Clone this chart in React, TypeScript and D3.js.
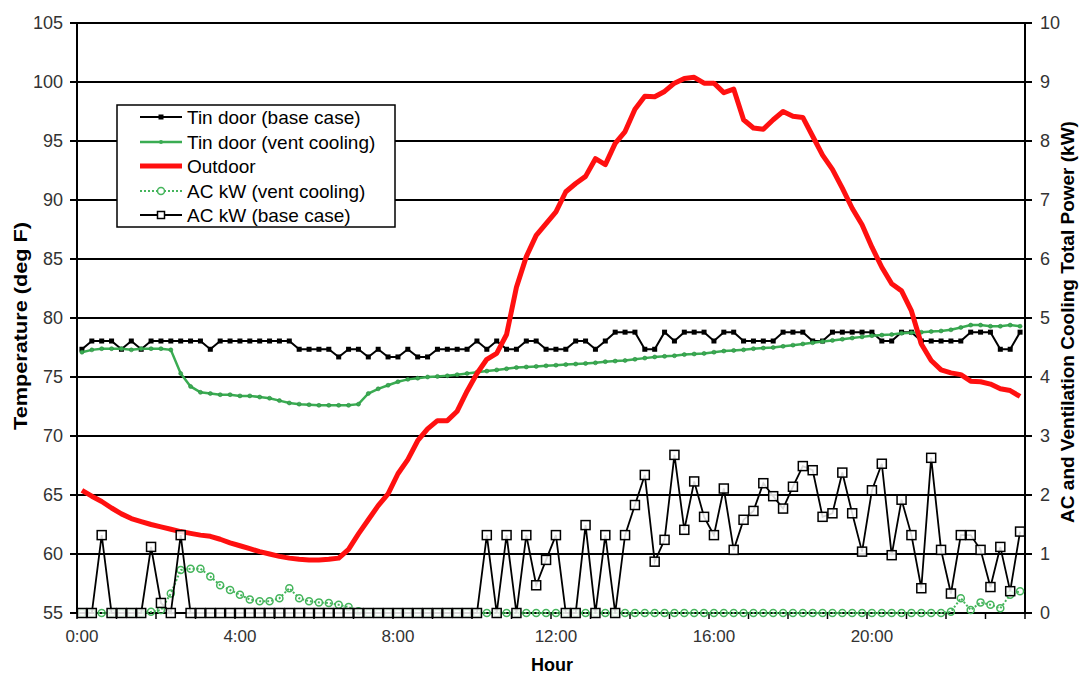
import React from 'react';
import * as d3 from 'd3';

const hourLabels = ['0:00', '4:00', '8:00', '12:00', '16:00', '20:00'];
const tempTicks = [55, 60, 65, 70, 75, 80, 85, 90, 95, 100, 105];
const kwTicks = [0, 1, 2, 3, 4, 5, 6, 7, 8, 9, 10];

const L1 = 76.7, L2 = 77.35, L3 = 78.05, L4 = 78.8;
const tindoorBase = [
  L2, L3, L3, L3, L2, L3, L2, L3, L3, L3, L3, L3, L3, L2, L3, L3,
  L3, L3, L3, L3, L3, L3, L2, L2, L2, L2, L1, L2, L2, L1, L2, L1,
  L1, L2, L1, L1, L2, L2, L2, L2, L3, L2, L3, L2, L2, L3, L3, L2,
  L2, L2, L3, L3, L2, L3, L4, L4, L4, L2, L2, L4, L3, L4, L4, L4,
  L3, L4, L4, L3, L3, L3, L3, L4, L4, L4, L3, L3, L4, L4, L4, L4,
  L4, L3, L3, L4, L4, L3, L3, L3, L3, L3, L4, L4, L4, L2, L2, L4,
];

const tindoorVent = [
  77.1, 77.3, 77.4, 77.4, 77.4, 77.3, 77.4, 77.4, 77.4, 77.3, 75.3, 74.2, 73.7, 73.6, 73.5, 73.5,
  73.4, 73.4, 73.3, 73.2, 73.0, 72.8, 72.7, 72.65, 72.6, 72.6, 72.6, 72.6, 72.7, 73.6, 74.0, 74.3,
  74.6, 74.8, 74.9, 75.0, 75.05, 75.1, 75.2, 75.3, 75.4, 75.5, 75.6, 75.7, 75.8, 75.85, 75.9, 75.95,
  76.0, 76.05, 76.1, 76.15, 76.2, 76.3, 76.35, 76.4, 76.5, 76.6, 76.7, 76.75, 76.8, 76.9, 76.95, 77.0,
  77.1, 77.2, 77.25, 77.3, 77.4, 77.45, 77.5, 77.6, 77.7, 77.8, 77.9, 78.0, 78.1, 78.2, 78.3, 78.4,
  78.5, 78.55, 78.6, 78.7, 78.75, 78.8, 78.85, 78.9, 79.0, 79.2, 79.4, 79.4, 79.3, 79.3, 79.4, 79.3,
];

const outdoor = [
  65.4, 64.9, 64.45, 63.9, 63.4, 63.0, 62.75, 62.5, 62.3, 62.1, 61.9, 61.75, 61.6, 61.5, 61.25, 60.95,
  60.7, 60.45, 60.2, 60.0, 59.8, 59.65, 59.55, 59.5, 59.5, 59.55, 59.65, 60.4, 61.7, 62.9, 64.1, 65.1,
  66.8, 68.0, 69.6, 70.6, 71.3, 71.3, 72.1, 73.8, 75.3, 76.5, 77.0, 78.6, 82.6, 85.2, 87.0, 88.0,
  89.0, 90.7, 91.4, 92.0, 93.5, 93.0, 94.8, 95.8, 97.7, 98.8, 98.75, 99.2, 99.9, 100.3, 100.4, 99.9,
  99.9, 99.1, 99.4, 96.8, 96.1, 96.0, 96.8, 97.5, 97.1, 97.0, 95.4, 93.8, 92.6, 91.0, 89.3, 87.9,
  86.0, 84.3, 82.9, 82.3, 80.6, 77.8, 76.4, 75.6, 75.35, 75.2, 74.65, 74.6, 74.4, 74.0, 73.85, 73.35,
];

const acVent = [
  0, 0, 0, 0, 0, 0, 0, 0.02, 0.05, 0.33, 0.73, 0.75, 0.75, 0.62, 0.47, 0.39,
  0.31, 0.23, 0.2, 0.2, 0.25, 0.42, 0.25, 0.2, 0.18, 0.17, 0.14, 0.1, 0.03, 0, 0, 0,
  0, 0, 0, 0, 0, 0, 0, 0, 0, 0, 0, 0, 0, 0, 0, 0,
  0, 0, 0, 0, 0, 0, 0, 0, 0, 0, 0, 0, 0, 0, 0, 0,
  0, 0, 0, 0, 0, 0, 0, 0, 0, 0, 0, 0, 0, 0, 0, 0,
  0, 0, 0, 0, 0, 0, 0, 0, 0.02, 0.25, 0.05, 0.18, 0.14, 0.08, 0.31, 0.37,
];

const acBase = [
  0, 0, 1.32, 0, 0, 0, 0, 1.12, 0.17, 0, 1.32, 0, 0, 0, 0, 0,
  0, 0, 0, 0, 0, 0, 0, 0, 0, 0, 0, 0, 0, 0, 0, 0,
  0, 0, 0, 0, 0, 0, 0, 0, 0, 1.32, 0, 1.32, 0, 1.32, 0.47, 0.9,
  1.32, 0, 0, 1.49, 0, 1.32, 0, 1.32, 1.83, 2.34, 0.87, 1.24, 2.68, 1.41, 2.23, 1.63,
  1.32, 2.11, 1.07, 1.58, 1.73, 2.2, 1.98, 1.77, 2.14, 2.49, 2.42, 1.63, 1.69, 2.38, 1.69, 1.04,
  2.08, 2.53, 0.98, 1.92, 1.32, 0.42, 2.63, 1.07, 0.33, 1.32, 1.32, 1.07, 0.44, 1.12, 0.37, 1.38,
];

const legendItems = [
  'Tin door (base case)',
  'Tin door (vent cooling)',
  'Outdoor',
  'AC kW (vent cooling)',
  'AC kW (base case)',
];

const W = 1081;
const H = 677;
const PL = 77;
const PR = 1025;
const PT = 23;
const PB = 613;
const N = 96;

const GREEN = '#3aac52';
const GREEN2 = '#45b55c';
const RED = '#ff1010';
const FONT = '"Liberation Sans", Arial, sans-serif';

export default function App() {
  const x = d3.scaleLinear().domain([0, N]).range([PL, PR]);
  const px = (i: number) => x(i + 0.5);
  const yT = d3.scaleLinear().domain([55, 105]).range([PB, PT]);
  const yK = d3.scaleLinear().domain([0, 10]).range([PB, PT]);

  const lineT = d3.line<number>().x((_, i) => px(i)).y((d) => yT(d));
  const lineK = d3.line<number>().x((_, i) => px(i)).y((d) => yK(d));

  const hourTicks = d3.range(0, N + 1, 4);

  const legendY = [117, 142, 166, 191, 215];

  return (
    <svg width={W} height={H} style={{ position: 'absolute', left: 0, top: 0, background: '#fff' }} fontFamily={FONT}>
      <rect x={0} y={0} width={W} height={H} fill="#fff" />
      {/* gridlines */}
      {tempTicks.map((t) => (
        <line key={'g' + t} x1={PL - 7} x2={PR + 7} y1={yT(t)} y2={yT(t)} stroke="#000" strokeWidth={2} />
      ))}
      {/* axes */}
      <line x1={PL} x2={PL} y1={PT} y2={PB} stroke="#000" strokeWidth={2} />
      <line x1={PR} x2={PR} y1={PT} y2={PB} stroke="#000" strokeWidth={2} />
      {hourTicks.map((k) => (
        <line key={'xt' + k} x1={x(k)} x2={x(k)} y1={PB} y2={PB + 6} stroke="#000" strokeWidth={1.5} />
      ))}
      {/* left tick labels */}
      {tempTicks.map((t) => (
        <text key={'lt' + t} x={63} y={yT(t) + 6} textAnchor="end" fontSize={18} fill="#333">
          {t}
        </text>
      ))}
      {kwTicks.map((t) => (
        <text key={'rt' + t} x={1040} y={yK(t) + 6} textAnchor="start" fontSize={18} fill="#333">
          {t}
        </text>
      ))}
      {hourLabels.map((h, j) => (
        <text key={'h' + h} x={px(j * 16)} y={642} textAnchor="middle" fontSize={17} fill="#333">
          {h}
        </text>
      ))}
      <text x={552} y={671} textAnchor="middle" fontSize={18} fontWeight="bold" fill="#000">
        Hour
      </text>
      <text transform="translate(27,326) rotate(-90)" textAnchor="middle" fontSize={19} fontWeight="bold" fill="#000" textLength={208} lengthAdjust="spacingAndGlyphs">
        Temperature (deg F)
      </text>
      <text transform="translate(1074,322) rotate(-90)" textAnchor="middle" fontSize={19} fontWeight="bold" fill="#000">
        AC and Ventilation Cooling Total Power (kW)
      </text>

      {/* Tindoor base */}
      <path d={lineT(tindoorBase) || ''} fill="none" stroke="#000" strokeWidth={2} />
      {tindoorBase.map((v, i) => (
        <rect key={'tb' + i} x={px(i) - 2.5} y={yT(v) - 2.5} width={5} height={5} fill="#000" />
      ))}
      {/* Tindoor vent */}
      <path d={lineT(tindoorVent) || ''} fill="none" stroke={GREEN} strokeWidth={2.5} />
      {tindoorVent.map((v, i) => (
        <circle key={'tv' + i} cx={px(i)} cy={yT(v)} r={2} fill={GREEN} stroke="#2a8a40" strokeWidth={0.6} />
      ))}
      {/* Outdoor */}
      <path d={lineT(outdoor) || ''} fill="none" stroke={RED} strokeWidth={5} strokeLinejoin="round" />
      {/* AC vent */}
      <path d={lineK(acVent) || ''} fill="none" stroke={GREEN2} strokeWidth={2} strokeDasharray="2,2" />
      {acVent.map((v, i) => (
        <circle key={'av' + i} cx={px(i)} cy={yK(v)} r={3.5} fill="none" stroke={GREEN2} strokeWidth={1.5} />
      ))}
      {/* AC base */}
      <path d={lineK(acBase) || ''} fill="none" stroke="#000" strokeWidth={1.8} />
      {acBase.map((v, i) => (
        <rect key={'ab' + i} x={px(i) - 4.5} y={yK(v) - 4.5} width={9} height={9} fill="#fff" fillOpacity={0.85} stroke="#000" strokeWidth={1.5} />
      ))}

      {/* Legend */}
      <rect x={117} y={105} width={278} height={122} fill="#fff" stroke="#000" strokeWidth={1.5} />
      {legendItems.map((name, j) => {
        const ly = legendY[j];
        const lx1 = 140, lx2 = 182, mx = 161;
        let sample: React.ReactNode = null;
        if (j === 0) {
          sample = (
            <g>
              <line x1={lx1} x2={lx2} y1={ly} y2={ly} stroke="#000" strokeWidth={2} />
              <rect x={mx - 2.5} y={ly - 2.5} width={5} height={5} fill="#000" />
            </g>
          );
        } else if (j === 1) {
          sample = (
            <g>
              <line x1={lx1} x2={lx2} y1={ly} y2={ly} stroke={GREEN} strokeWidth={2.5} />
              <circle cx={mx} cy={ly} r={2} fill={GREEN} />
            </g>
          );
        } else if (j === 2) {
          sample = <line x1={lx1} x2={lx2} y1={ly} y2={ly} stroke={RED} strokeWidth={5} />;
        } else if (j === 3) {
          sample = (
            <g>
              <line x1={lx1} x2={lx2} y1={ly} y2={ly} stroke={GREEN2} strokeWidth={2} strokeDasharray="2,2" />
              <circle cx={mx} cy={ly} r={3.5} fill="#fff" stroke={GREEN2} strokeWidth={1.5} />
            </g>
          );
        } else {
          sample = (
            <g>
              <line x1={lx1} x2={lx2} y1={ly} y2={ly} stroke="#000" strokeWidth={1.8} />
              <rect x={mx - 3.5} y={ly - 3.5} width={7} height={7} fill="#fff" stroke="#000" strokeWidth={1.5} />
            </g>
          );
        }
        return (
          <g key={'lg' + j}>
            {sample}
            <text x={187} y={ly + 7} fontSize={19} fill="#000">
              {name}
            </text>
          </g>
        );
      })}
    </svg>
  );
}
